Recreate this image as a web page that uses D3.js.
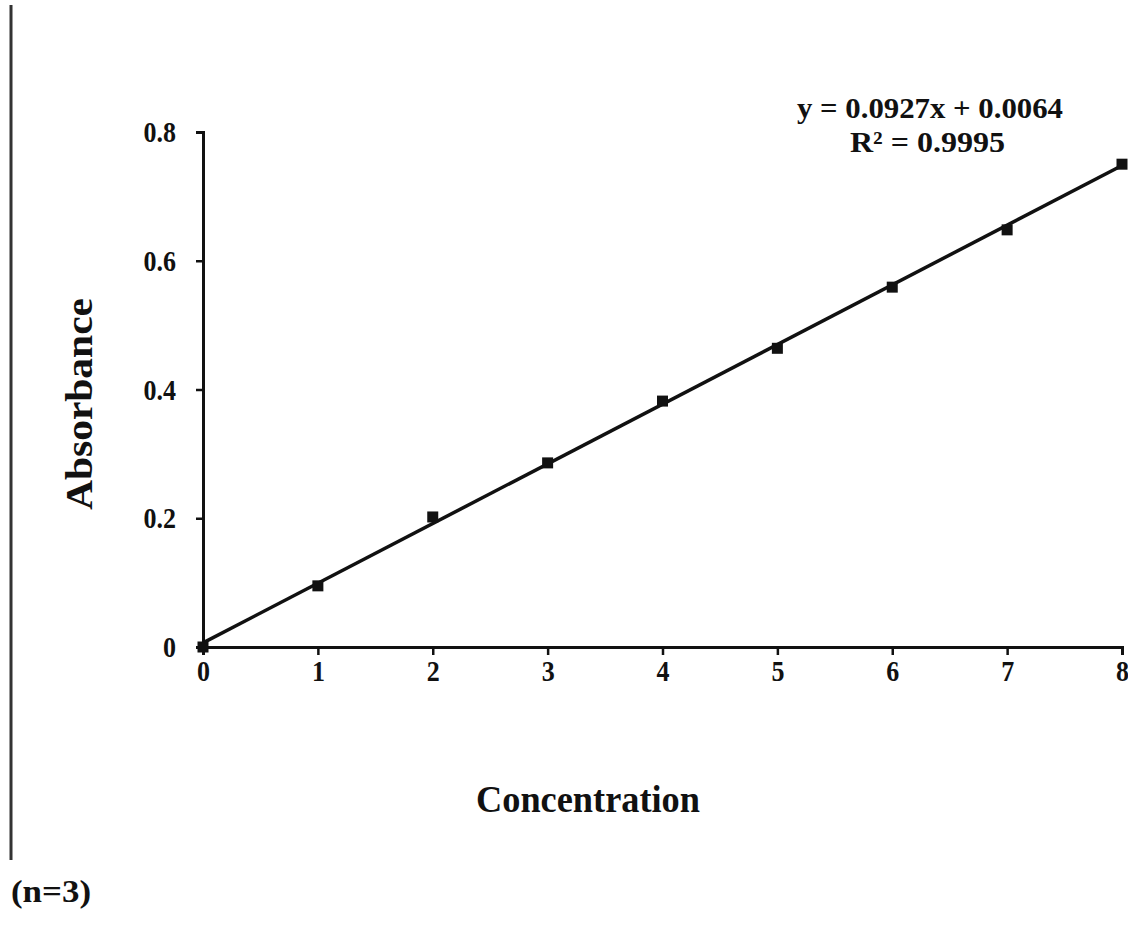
<!DOCTYPE html>
<html>
<head>
<meta charset="utf-8">
<script src="https://cdn.jsdelivr.net/npm/d3@7"></script>
<style>
  html, body { margin: 0; padding: 0; background: #fff; }
  svg { display: block; }
  text { font-family: "Liberation Serif", "Times New Roman", serif; font-weight: bold; fill: #111; }
</style>
</head>
<body>
<svg id="chart" width="1128" height="932"></svg>
<script>
// Calibration data: concentration vs. absorbance (mean of n=3)
const concentration = [0, 1, 2, 3, 4, 5, 6, 7, 8];
const absorbance = [0, 0.095, 0.202, 0.286, 0.382, 0.464, 0.559, 0.648, 0.750];
const xTicks = [0, 1, 2, 3, 4, 5, 6, 7, 8];
const yTicks = [0, 0.2, 0.4, 0.6, 0.8];
const yTickLabels = ["0", "0.2", "0.4", "0.6", "0.8"];
const fitSlope = 0.0927;
const fitIntercept = 0.0064;
const fitR2 = "0.9995";

const svg = d3.select("#chart");
const margin = { left: 203, right: 6, top: 132, bottom: 285 };
const W = 1128, H = 932;

const x = d3.scaleLinear().domain([0, 8]).range([margin.left, W - margin.right]);
const y = d3.scaleLinear().domain([0, 0.8]).range([H - margin.bottom, margin.top]);

// Frame line on the left side of the figure
svg.append("line")
  .attr("x1", 11).attr("x2", 11).attr("y1", 5).attr("y2", 860)
  .attr("stroke", "#333").attr("stroke-width", 3);

// Tick label styling: Times-like bold, slightly tall
function styleTicks(sel) {
  sel.style("font-size", "26px")
    .style("font-family", "Liberation Serif, serif")
    .style("font-weight", "bold")
    .attr("fill", "#111");
}

// Y axis
const yAxis = d3.axisLeft(y).tickValues(yTicks)
  .tickFormat((d, i) => yTickLabels[i]).tickSize(7).tickPadding(20);
const gy = svg.append("g").attr("transform", `translate(${margin.left},0)`).call(yAxis);
gy.select(".domain").attr("stroke", "#111").attr("stroke-width", 3);
gy.selectAll(".tick line").attr("stroke", "#111").attr("stroke-width", 2.5);
gy.selectAll(".tick text").call(styleTicks).attr("transform", "scale(1,1.15)");

// X axis
const xAxis = d3.axisBottom(x).tickValues(xTicks).tickFormat(d3.format("d")).tickSize(8).tickPadding(3);
const gx = svg.append("g").attr("transform", `translate(0,${y(0)})`).call(xAxis);
gx.select(".domain").attr("stroke", "#111").attr("stroke-width", 3);
gx.selectAll(".tick line").attr("stroke", "#111").attr("stroke-width", 2.5);
gx.selectAll(".tick text").call(styleTicks).attr("transform", "scale(1,1.15)");

// Linear trendline from the fitted equation
const fitX = [0, 8];
svg.append("path")
  .datum(fitX)
  .attr("fill", "none").attr("stroke", "#111").attr("stroke-width", 3.5)
  .attr("d", d3.line().x(d => x(d)).y(d => y(fitSlope * d + fitIntercept)));

// Data markers
svg.append("g").selectAll("rect")
  .data(concentration.map((c, i) => ({ c, a: absorbance[i] })))
  .join("rect")
  .attr("x", d => x(d.c) - 5.5).attr("y", d => y(d.a) - 5.5)
  .attr("width", 11).attr("height", 11)
  .attr("fill", "#111");

// Regression equation
svg.append("text").attr("x", 797).attr("y", 118)
  .style("font-size", "30px")
  .attr("textLength", 266).attr("lengthAdjust", "spacingAndGlyphs")
  .text(`y = ${fitSlope}x + ${fitIntercept}`);
svg.append("text").attr("x", 850).attr("y", 152)
  .style("font-size", "30px")
  .attr("textLength", 155).attr("lengthAdjust", "spacingAndGlyphs")
  .text(`R² = ${fitR2}`);

// Axis titles
svg.append("text")
  .attr("transform", `translate(92,510) rotate(-90)`)
  .style("font-size", "37px")
  .attr("textLength", 212).attr("lengthAdjust", "spacingAndGlyphs")
  .text("Absorbance");
svg.append("text")
  .attr("x", 476).attr("y", 812)
  .style("font-size", "37px")
  .attr("textLength", 224).attr("lengthAdjust", "spacingAndGlyphs")
  .text("Concentration");

// Replicate note
svg.append("text").attr("x", 11).attr("y", 902)
  .style("font-size", "32px")
  .attr("textLength", 80).attr("lengthAdjust", "spacingAndGlyphs")
  .text("(n=3)");
</script>
</body>
</html>
